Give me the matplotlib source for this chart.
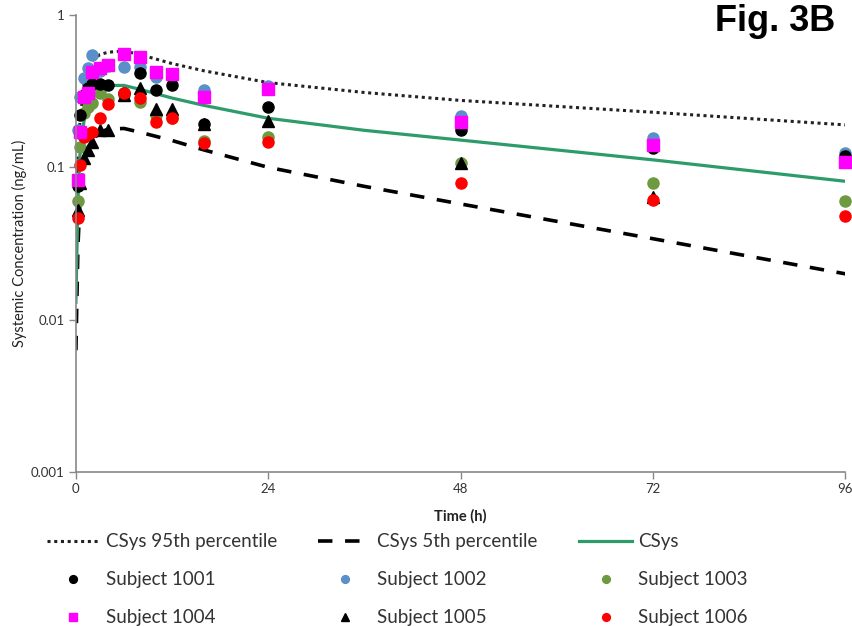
import numpy as np
import matplotlib.pyplot as plt

plt.rcParams['font.family'] = ['Lato', 'DejaVu Sans']

# model curves
t_model = [0, 0.25, 0.5, 1, 1.5, 2, 3, 4, 6, 8, 12, 16, 24, 36, 48, 72, 96]
csys = [0.013, 0.06, 0.12, 0.20, 0.25, 0.28, 0.325, 0.345, 0.345, 0.325, 0.285, 0.255, 0.21, 0.175, 0.151, 0.112, 0.081]
p95 = [0.02, 0.10, 0.20, 0.35, 0.44, 0.50, 0.55, 0.57, 0.58, 0.55, 0.48, 0.43, 0.36, 0.31, 0.275, 0.23, 0.19]
p05 = [0.0063, 0.03, 0.06, 0.11, 0.135, 0.15, 0.17, 0.178, 0.18, 0.17, 0.15, 0.13, 0.10, 0.075, 0.0575, 0.034, 0.02]

# observed subjects
t_obs = [0.25, 0.5, 1, 1.5, 2, 3, 4, 6, 8, 10, 12, 16, 24, 48, 72, 96]
s1001 = [0.075, 0.22, 0.30, 0.33, 0.35, 0.35, 0.345, 0.31, 0.415, 0.32, 0.345, 0.193, 0.25, 0.176, 0.134, 0.118]
s1002 = [0.175, 0.29, 0.385, 0.45, 0.546, 0.43, 0.46, 0.456, 0.456, 0.39, 0.40, 0.32, 0.34, 0.217, 0.156, 0.124]
s1003 = [0.06, 0.136, 0.227, 0.25, 0.264, 0.31, 0.28, 0.30, 0.27, 0.22, 0.21, 0.15, 0.158, 0.107, 0.079, 0.06]
s1004 = [0.0825, 0.171, 0.29, 0.31, 0.42, 0.45, 0.47, 0.555, 0.53, 0.422, 0.41, 0.29, 0.327, 0.198, 0.14, 0.108]
s1005 = [0.0525, 0.079, 0.115, 0.13, 0.146, 0.175, 0.175, 0.30, 0.33, 0.241, 0.241, 0.193, 0.20, 0.107, 0.064, np.nan]
s1006 = [0.0466, 0.103, 0.158, 0.165, 0.171, 0.211, 0.26, 0.31, 0.285, 0.198, 0.211, 0.144, 0.147, 0.079, 0.061, 0.048]

fig = plt.figure(figsize=(8.53, 6.26), dpi=100)
ax = fig.add_axes([0.089, 0.246, 0.902, 0.730])

l95, = ax.plot(t_model, p95, color='#222222', lw=2.2, ls=(0, (1, 1.2)), label='CSys 95th percentile')
l05, = ax.plot(t_model, p05, color='black', lw=2.6, ls=(0, (4, 3.5)), label='CSys 5th percentile')
lc, = ax.plot(t_model, csys, color='#2E9B6A', lw=2.3, label='CSys')

subjects = [
    (s1001, 'Subject 1001', 'o', 'black'),
    (s1002, 'Subject 1002', 'o', '#5B8FC9'),
    (s1003, 'Subject 1003', 'o', '#6E9A3F'),
    (s1004, 'Subject 1004', 's', '#FF00FF'),
    (s1005, 'Subject 1005', '^', 'black'),
    (s1006, 'Subject 1006', 'o', '#FF0000'),
]
order = [1, 2, 0, 4, 5, 3]
mh = {}
for i in order:
    vals, name, m, c = subjects[i]
    ms = 8 if m != '^' else 8.5
    h, = ax.plot(t_obs, vals, ls='none', marker=m, ms=ms, color=c, mec=c, clip_on=False, label=name)
    mh[i] = h

ax.set_yscale('log')
ax.set_ylim(0.001, 1)
ax.set_xlim(0, 96)
ax.set_xticks([0, 24, 48, 72, 96])
ax.set_yticks([0.001, 0.01, 0.1, 1])
ax.set_yticklabels(['0.001', '0.01', '0.1', '1'])
ax.minorticks_off()
for s in ['top', 'right']:
    ax.spines[s].set_visible(False)
for s in ['left', 'bottom']:
    ax.spines[s].set_color('#888888')
    ax.spines[s].set_linewidth(1.2)
ax.tick_params(axis='both', direction='out', length=5, width=1, color='#888888',
               labelsize=9.5, labelcolor='#333333', pad=3)
ax.set_xlabel('Time (h)', fontsize=10.5, fontweight='bold', color='#222222', labelpad=10)
ax.set_ylabel('Systemic Concentration (ng/mL)', fontsize=10.5, color='#222222', labelpad=3)

fig.text(0.979, 0.966, 'Fig. 3B', ha='right', va='center', fontsize=26, fontweight='bold',
         family=['Liberation Sans', 'DejaVu Sans'])

# legend: columns filled top to bottom
handles = [l95, mh[0], mh[3], l05, mh[1], mh[4], lc, mh[2], mh[5]]
fig.legend(handles=handles, loc='center left', bbox_to_anchor=(0.035, 0.074),
           ncol=3, frameon=False, fontsize=13.5, handlelength=2.85, handletextpad=0.3,
           columnspacing=2.2, labelspacing=1.12, markerscale=0.7, labelcolor='#333333')

fig.savefig('out.png', dpi=100)
